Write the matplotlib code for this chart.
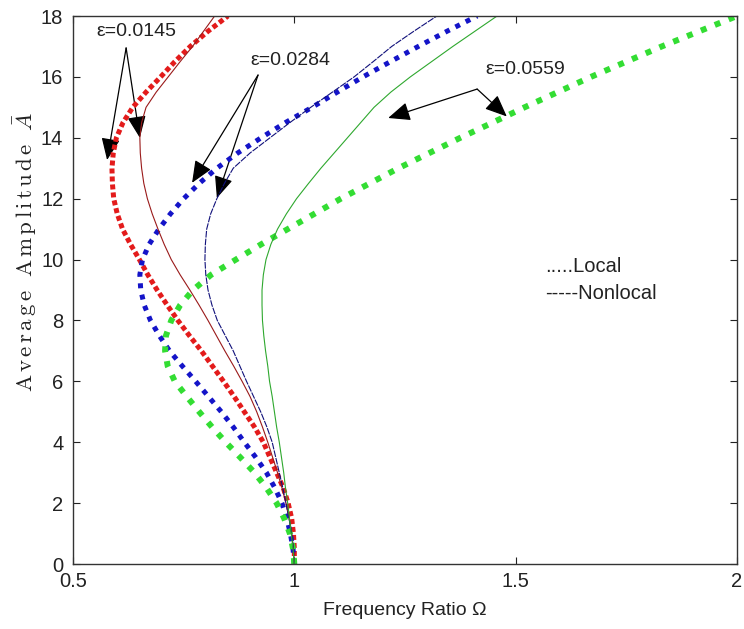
import matplotlib
matplotlib.use("Agg")
import matplotlib.pyplot as plt
from matplotlib.patches import FancyArrowPatch

plt.rcParams['font.family'] = ['Liberation Sans', 'DejaVu Sans']
plt.rcParams['mathtext.fontset'] = 'cm'

# Amplitude samples (y values) shared by all curves
amp = [0, 0.5, 1, 1.5, 2, 2.5, 3, 3.5, 4, 4.5, 5, 5.5, 6, 6.5, 7, 7.5, 8, 8.5, 9, 9.5,
       10, 10.5, 11, 11.5, 12, 12.5, 13, 13.5, 14, 14.5, 15, 15.5, 16, 16.5, 17, 17.5, 18]

# eps = 0.0145
red_local = [1.0, 1.0, 0.998, 0.994, 0.986, 0.975, 0.960, 0.945, 0.930, 0.910, 0.887, 0.864, 0.840, 0.815, 0.790, 0.763, 0.737, 0.713, 0.690, 0.669,
             0.650, 0.630, 0.612, 0.600, 0.592, 0.589, 0.588, 0.591, 0.598, 0.613, 0.635, 0.665, 0.698, 0.730, 0.765, 0.805, 0.850]
red_nonlocal = [1.0, 0.998, 0.994, 0.988, 0.981, 0.972, 0.962, 0.951, 0.940, 0.928, 0.915, 0.900, 0.882, 0.863, 0.843, 0.824, 0.805, 0.785, 0.764, 0.742,
                0.722, 0.706, 0.692, 0.679, 0.668, 0.660, 0.655, 0.652, 0.651, 0.655, 0.665, 0.688, 0.715, 0.742, 0.770, 0.795, 0.820]
# eps = 0.0284
blue_local = [1.0, 0.997, 0.991, 0.983, 0.972, 0.956, 0.937, 0.913, 0.887, 0.862, 0.835, 0.806, 0.777, 0.747, 0.718, 0.695, 0.675, 0.661, 0.653, 0.651,
              0.657, 0.672, 0.694, 0.720, 0.750, 0.785, 0.825, 0.872, 0.925, 0.980, 1.040, 1.097, 1.155, 1.217, 1.280, 1.345, 1.413]
blue_nonlocal = [1.0, 0.998, 0.994, 0.988, 0.981, 0.974, 0.966, 0.958, 0.950, 0.938, 0.924, 0.908, 0.892, 0.877, 0.862, 0.844, 0.826, 0.814, 0.805, 0.800,
                 0.798, 0.799, 0.802, 0.811, 0.825, 0.842, 0.862, 0.900, 0.945, 0.990, 1.037, 1.086, 1.135, 1.178, 1.220, 1.270, 1.322]
# eps = 0.0559
green_local = [1.0, 0.997, 0.990, 0.977, 0.960, 0.937, 0.910, 0.878, 0.845, 0.814, 0.785, 0.757, 0.730, 0.714, 0.708, 0.710, 0.722, 0.742, 0.771, 0.812,
               0.868, 0.925, 0.985, 1.045, 1.105, 1.170, 1.235, 1.305, 1.375, 1.448, 1.520, 1.595, 1.670, 1.750, 1.830, 1.915, 2.000]
green_nonlocal = [1.0, 0.997, 0.993, 0.989, 0.985, 0.980, 0.976, 0.971, 0.966, 0.960, 0.955, 0.950, 0.944, 0.940, 0.935, 0.931, 0.928, 0.927, 0.927, 0.930,
                  0.936, 0.947, 0.962, 0.982, 1.005, 1.032, 1.060, 1.090, 1.120, 1.150, 1.180, 1.218, 1.262, 1.310, 1.358, 1.408, 1.458]

xticks = [0.5, 1, 1.5, 2]
xtick_labels = ['0.5', '1', '1.5', '2']
yticks = [0, 2, 4, 6, 8, 10, 12, 14, 16, 18]

fig = plt.figure(figsize=(7.44, 6.29), dpi=100)
ax = fig.add_axes([73/744, 1-564/629, 664/744, 548/629])

# local (thick dotted)
ax.plot(red_local, amp, color='#e31b1b', lw=3.6, linestyle=(0, (1, 0.6)))
ax.plot(blue_local, amp, color='#1414c8', lw=3.6, linestyle=(0, (1, 1.3)))
ax.plot(green_local, amp, color='#33dd33', lw=4.3, linestyle=(0, (1, 1.5)))
# nonlocal (thin)
ax.plot(red_nonlocal, amp, color='#9a1a1a', lw=0.8)
ax.plot(blue_nonlocal, amp, color='#10107a', lw=0.8, linestyle=(0, (6, 1)))
ax.plot(green_nonlocal, amp, color='#2ea82e', lw=0.8)

ax.set_xlim(0.5, 2)
ax.set_ylim(0, 18)
ax.set_xticks(xticks)
ax.set_xticklabels(xtick_labels)
ax.set_yticks(yticks)
ax.tick_params(direction='in', length=5, width=0.8, top=True, right=True,
               labelsize=14.5, colors='#222222', pad=7)
ax.tick_params(axis='x', pad=6)
for s in ax.spines.values():
    s.set_color('#333333')
    s.set_linewidth(1.0)

ax.set_xlabel('Frequency Ratio Ω', fontsize=14, color='#222222', labelpad=8)
ylab = r'$\mathrm{A\,v\,e\,r\,a\,g\,e\ \ A\,m\,p\,l\,i\,t\,u\,d\,e}\ \ \bar{A}$'
fig.text(25/744, 1-252/629, ylab, rotation=90,
         ha='center', va='center', fontsize=16.5, color='#222222')

# annotations
def arrow(p0, p1):
    a = FancyArrowPatch(p0, p1, arrowstyle='-|>,head_length=0.75,head_width=0.32',
                        mutation_scale=18, color='black', lw=0.9, shrinkA=0, shrinkB=0)
    ax.add_patch(a)

ax.text(0.553, 17.5, 'ε=0.0145', fontsize=14, color='#222222', va='center', ha='left')
arrow((0.620, 16.95), (0.577, 13.27))
arrow((0.620, 16.95), (0.651, 14.0))

ax.text(0.900, 16.55, 'ε=0.0284', fontsize=14, color='#222222', va='center', ha='left')
arrow((0.918, 16.06), (0.769, 12.52))
arrow((0.918, 16.06), (0.825, 12.02))

ax.text(1.431, 16.23, 'ε=0.0559', fontsize=14, color='#222222', va='center', ha='left')
arrow((1.413, 15.6), (1.212, 14.65))
arrow((1.413, 15.6), (1.48, 14.7))

ax.text(1.566, 9.76, '.....Local', fontsize=14.5, color='#222222', va='center', ha='left')
ax.text(1.566, 8.9, '-----Nonlocal', fontsize=14.5, color='#222222', va='center', ha='left')

fig.savefig('out.png', dpi=100)
